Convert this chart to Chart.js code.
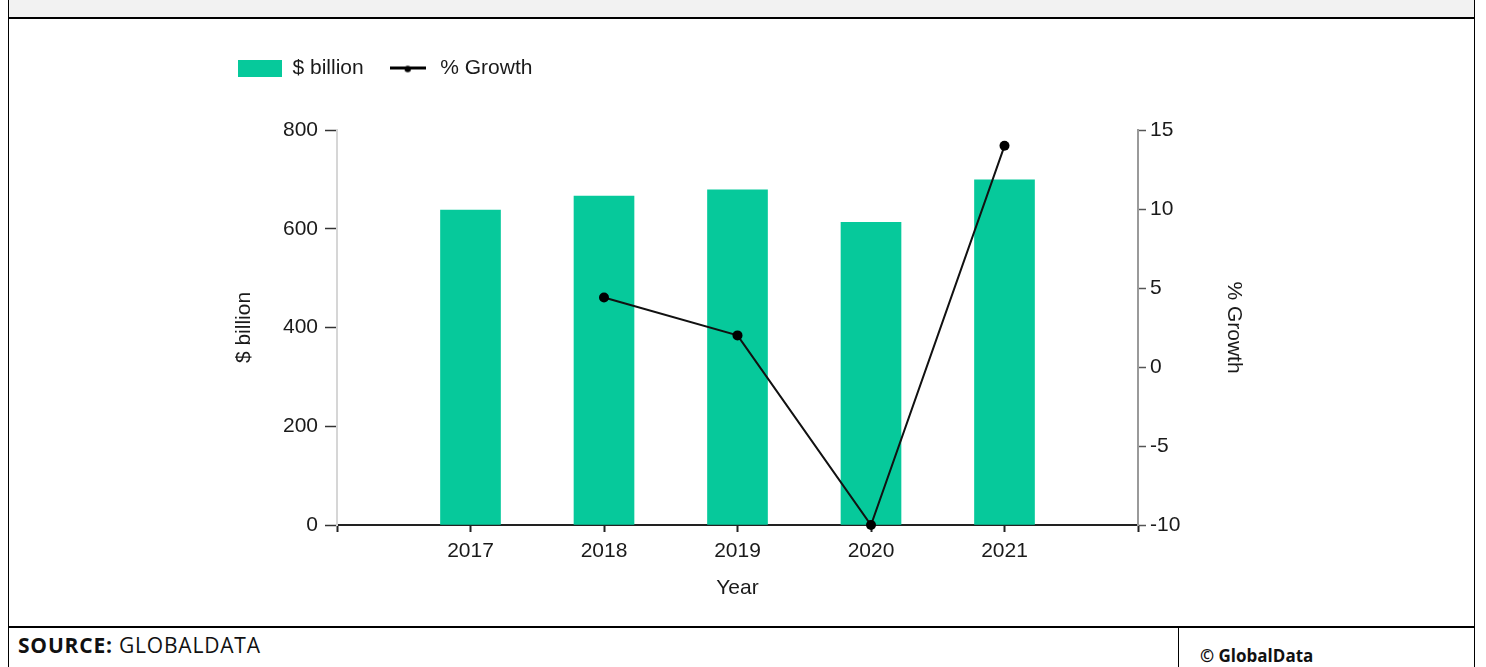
<!DOCTYPE html>
<html>
<head>
<meta charset="utf-8">
<script src="https://cdn.jsdelivr.net/npm/chart.js@4.4.1/dist/chart.umd.min.js"></script>
<style>
  html, body { margin: 0; padding: 0; background: #fff; }
  body { width: 1486px; height: 667px; position: relative; overflow: hidden; }
  .frame { position: absolute; left: 8px; top: 0; width: 1465px; height: 667px;
           border-left: 1px solid #000; border-right: 1px solid #000; }
  .head { position: absolute; left: 9px; top: 0; width: 1465px; height: 17px;
          background: #f2f2f2; border-bottom: 2px solid #000; }
  .foot { position: absolute; left: 9px; top: 626px; width: 1465px; height: 0;
          border-top: 2px solid #000; }
  .sep { position: absolute; left: 1178px; top: 627px; width: 0; height: 40px;
         border-left: 1px solid #000; }
  .src { position: absolute; left: 18px; top: 631px; font: 21px "Open Sans", sans-serif; color: #111; letter-spacing: 0.8px; }
  .src b { font-weight: 700; }
  .copy { position: absolute; left: 1200px; top: 644px; font: bold 17px "Open Sans", sans-serif; color: #111; }
  #wrap { position: absolute; left: 216px; top: 36px; width: 1038px; height: 580px; }
</style>
</head>
<body>
<div class="frame"></div>
<div class="head"></div>
<div class="foot"></div>
<div class="sep"></div>
<div class="src"><b>SOURCE:</b> GLOBALDATA</div>
<div class="copy">© GlobalData</div>
<div id="wrap"><canvas id="chart"></canvas></div>
<script>
const years = [2017, 2018, 2019, 2020, 2021];
const billions = [638, 666, 679, 613, 699];
const growth = [null, 4.4, 2.0, -10.0, 14.0];
const leftTicks = [0, 200, 400, 600, 800];
const rightTicks = [-10, -5, 0, 5, 10, 15];

const green = '#06c99b';
const ink = '#1a1a1a';

Chart.defaults.font.family = '"Liberation Sans", Arial, sans-serif';
Chart.defaults.font.size = 21;
Chart.defaults.color = ink;

// little line-with-dot icon for the % Growth legend entry
const growthIcon = document.createElement('canvas');
growthIcon.width = 36;
growthIcon.height = 10;
(function () {
  const g = growthIcon.getContext('2d');
  g.strokeStyle = '#000';
  g.lineWidth = 3;
  g.beginPath();
  g.moveTo(0, 4.5);
  g.lineTo(36, 4.5);
  g.stroke();
  g.fillStyle = '#000';
  g.beginPath();
  g.arc(18, 5.5, 3.2, 0, Math.PI * 2);
  g.fill();
})();

// keep the legend tall so the plot starts where it does in the picture
const legendGap = {
  id: 'legendGap',
  beforeLayout(chart) {
    const legend = chart.legend;
    if (!legend || legend._gapDone) return;
    const fit = legend.fit;
    legend.fit = function () {
      fit.call(this);
      this.height = 94;
    };
    legend._gapDone = true;
  }
};

new Chart(document.getElementById('chart'), {
  type: 'bar',
  data: {
    datasets: [{
      type: 'bar',
      label: '$ billion',
      data: years.map((y, i) => ({ x: y, y: billions[i] })),
      backgroundColor: green,
      borderWidth: 0,
      barThickness: 60,
      yAxisID: 'y',
      order: 2
    }, {
      type: 'line',
      label: '% Growth',
      data: years.map((y, i) => ({ x: y, y: growth[i] })),
      borderColor: '#111',
      backgroundColor: '#000',
      borderWidth: 2,
      pointRadius: 5,
      pointHoverRadius: 5,
      pointBackgroundColor: '#000',
      pointBorderWidth: 0,
      tension: 0,
      clip: false,
      yAxisID: 'y1',
      order: 1
    }]
  },
  options: {
    responsive: true,
    maintainAspectRatio: false,
    animation: false,
    layout: { padding: 0 },
    plugins: {
      tooltip: { enabled: false },
      legend: {
        position: 'top',
        align: 'start',
        labels: {
          usePointStyle: true,
          pointStyleWidth: 44,
          boxHeight: 17,
          padding: 22,
          color: ink,
          generateLabels(chart) {
            const items = Chart.defaults.plugins.legend.labels.generateLabels(chart);
            items.sort((a, b) => a.datasetIndex - b.datasetIndex);
            items.forEach(item => {
              if (item.datasetIndex === 0) {
                item.pointStyle = 'rect';
                item.lineWidth = 0;
                item.fillStyle = green;
              } else {
                item.pointStyle = growthIcon;
              }
            });
            return items;
          }
        }
      }
    },
    scales: {
      x: {
        type: 'linear',
        min: years[0] - 1,
        max: years[years.length - 1] + 1,
        offset: false,
        afterBuildTicks(scale) {
          scale.ticks = [years[0] - 1, ...years, years[years.length - 1] + 1].map(v => ({ value: v }));
        },
        afterFit(scale) { scale.height = 91; },
        ticks: {
          padding: 7,
          color: ink,
          callback: v => years.includes(v) ? String(v) : ''
        },
        grid: { drawOnChartArea: false, offset: false, tickLength: 7, tickColor: '#222', tickWidth: 2 },
        border: { color: '#222', width: 2 },
        title: { display: true, text: 'Year', color: ink, padding: { top: 4, bottom: 15 } }
      },
      y: {
        position: 'left',
        min: leftTicks[0],
        max: leftTicks[leftTicks.length - 1],
        afterBuildTicks(scale) { scale.ticks = leftTicks.map(v => ({ value: v })); },
        afterFit(scale) { scale.width = 121; },
        ticks: { padding: 7, color: ink },
        grid: { drawOnChartArea: false, tickLength: 12, tickColor: '#333', tickWidth: 1.5 },
        border: { color: '#d6d6d6', width: 2 },
        title: { display: true, text: '$ billion', color: ink, padding: { top: 16, bottom: 4 } }
      },
      y1: {
        position: 'right',
        min: rightTicks[0],
        max: rightTicks[rightTicks.length - 1],
        afterBuildTicks(scale) { scale.ticks = rightTicks.map(v => ({ value: v })); },
        afterFit(scale) { scale.width = 116; },
        ticks: { padding: 4, color: ink },
        grid: { drawOnChartArea: false, tickLength: 8, tickColor: '#555', tickWidth: 1.5 },
        border: { color: '#9a9a9a', width: 2 },
        title: { display: true, text: '% Growth', color: ink, padding: { top: 8, bottom: 4 } }
      }
    }
  },
  plugins: [legendGap]
});
</script>
</body>
</html>
